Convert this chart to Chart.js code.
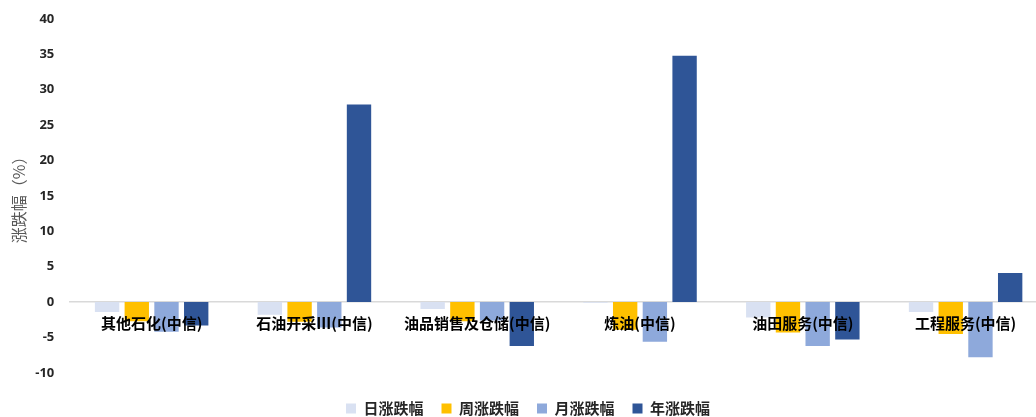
<!DOCTYPE html>
<html>
<head>
<meta charset="utf-8">
<script src="https://cdn.jsdelivr.net/npm/chart.js@4"></script>
<style>
  html, body { margin: 0; padding: 0; background: #fff; overflow: hidden; }
  #wrap { width: 1047px; height: 417px; }
</style>
</head>
<body>
<div id="wrap"><canvas id="chart"></canvas></div>
<script>
const categories = ["其他石化(中信)", "石油开采Ⅲ(中信)", "油品销售及仓储(中信)", "炼油(中信)", "油田服务(中信)", "工程服务(中信)"];
const dayChange = [-1.4, -1.8, -1.0, -0.1, -2.2, -1.4];
const weekChange = [-2.7, -2.8, -2.7, -3.9, -4.3, -4.5];
const monthChange = [-4.2, -3.6, -2.6, -5.6, -6.2, -7.8];
const yearChange = [-3.3, 27.9, -6.2, 34.8, -5.3, 4.1];
const seriesNames = ["日涨跌幅", "周涨跌幅", "月涨跌幅", "年涨跌幅"];

const cjk = "'Noto Sans CJK SC', sans-serif";

const ctx = document.getElementById("chart").getContext("2d");
new Chart(ctx, {
  type: "bar",
  data: {
    labels: categories,
    datasets: [
      { label: seriesNames[0], data: dayChange, backgroundColor: "#D9E1F2" },
      { label: seriesNames[1], data: weekChange, backgroundColor: "#FFC000" },
      { label: seriesNames[2], data: monthChange, backgroundColor: "#8EA9DB" },
      { label: seriesNames[3], data: yearChange, backgroundColor: "#2F5597" },
    ],
  },
  options: {
    responsive: true,
    maintainAspectRatio: false,
    animation: false,
    layout: { padding: { left: 9, top: 19, right: 0, bottom: -9 } },
    datasets: {
      bar: { categoryPercentage: 0.73, barPercentage: 0.82 },
    },
    plugins: {
      tooltip: { enabled: false },
      legend: {
        position: "bottom",
        // empty title only adds height so the items keep their place
        title: { display: true, text: "", font: { size: 1 }, padding: { top: 9, bottom: 0 } },
        labels: {
          boxWidth: 10,
          boxHeight: 10,
          padding: 18,
          color: "#262626",
          font: { family: cjk, size: 15, weight: "bold" },
        },
      },
    },
    scales: {
      x: {
        position: { y: 0 },
        grid: { display: false, drawTicks: false },
        border: { color: "#D9D9D9", width: 1.5 },
        ticks: {
          z: 1,
          color: "#000",
          padding: 12,
          maxRotation: 0,
          autoSkip: false,
          font: { family: cjk, size: 15, weight: "bold" },
        },
      },
      y: {
        min: -10,
        max: 40,
        afterFit: (scale) => {
          scale.paddingTop = 0;
          scale.paddingBottom = 0;
        },
        grid: { display: false, drawTicks: false },
        border: { display: false },
        ticks: {
          stepSize: 5,
          padding: 16,
          color: "#262626",
          font: { family: "'Open Sans', sans-serif", size: 13, weight: "bold" },
        },
        title: {
          display: true,
          text: "涨跌幅（%）",
          color: "#595959",
          padding: { top: 0, bottom: -9 },
          font: { family: cjk, size: 16 },
        },
      },
    },
  },
});
</script>
</body>
</html>
